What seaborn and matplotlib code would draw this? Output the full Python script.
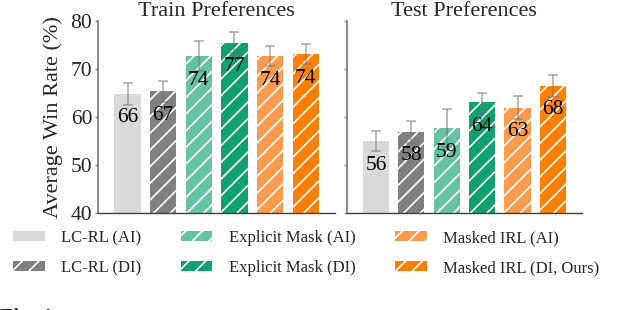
import numpy as np
import pandas as pd
import matplotlib
matplotlib.use('Agg')
import matplotlib.pyplot as plt
import matplotlib.patches as mpatches
import seaborn as sns

# data
methods = ['LC-RL (AI)', 'LC-RL (DI)', 'Explicit Mask (AI)', 'Explicit Mask (DI)',
           'Masked IRL (AI)', 'Masked IRL (DI, Ours)']
colors = ['#d9d9d9', '#808080', '#66c2a5', '#0fa06f', '#fc9a4e', '#ff7f00']
hatches = ['', '//', '//', '//', '//', '//']

train_vals = [64.8, 65.4, 72.7, 75.5, 72.7, 73.1]
train_err = [2.2, 2.2, 3.1, 2.2, 2.0, 2.1]
train_labels = ['66', '67', '74', '77', '74', '74']

test_vals = [55.0, 56.9, 57.7, 63.1, 61.9, 66.5]
test_err = [2.0, 2.3, 4.0, 2.0, 2.4, 2.3]
test_labels = ['56', '58', '59', '64', '63', '68']

yticks = [40, 50, 60, 70, 80]

sns.set_style('ticks')
plt.rcParams['font.family'] = ['Liberation Serif', 'DejaVu Serif']
plt.rcParams['hatch.color'] = 'white'
plt.rcParams['hatch.linewidth'] = 1.2

W, H = 618, 310
fig = plt.figure(figsize=(W / 100, H / 100), dpi=100)
ax1 = fig.add_axes([98 / W, 1 - 213 / H, 237 / W, 192 / H])
ax2 = fig.add_axes([346.5 / W, 1 - 213 / H, 235.5 / W, 192 / H])

panels = [(ax1, 'Train Preferences', train_vals, train_err, train_labels),
          (ax2, 'Test Preferences', test_vals, test_err, test_labels)]

for ax, title, vals, errs, labels in panels:
    df = pd.DataFrame({'method': methods, 'value': vals})
    sns.barplot(data=df, x='method', y='value', hue='method', palette=colors,
                order=methods, hue_order=methods, width=0.74, saturation=1,
                legend=False, ax=ax, zorder=1)
    for bar, h in zip(ax.patches, hatches):
        bar.set_hatch(h)
        bar.set_edgecolor('white')
        bar.set_linewidth(0)
    ax.errorbar(np.arange(len(methods)), vals, yerr=errs, fmt='none',
                ecolor='#707070', alpha=0.55, elinewidth=1.2, capsize=3.5,
                capthick=1.2, zorder=2)
    for i, (v, lab) in enumerate(zip(vals, labels)):
        ax.text(i, v - 5, lab, ha='center', va='center', fontsize=15.5,
                color='black', zorder=3)
    ax.set_xlim(-0.83, 5.82)
    ax.set_ylim(40, 80)
    ax.set_yticks(yticks)
    ax.set_xticks([])
    ax.set_xlabel('')
    ax.set_ylabel('')
    ax.set_title(title, fontsize=16, pad=2)
    for s in ['top', 'right']:
        ax.spines[s].set_visible(False)
    ax.spines['left'].set_color('#808080')
    ax.spines['left'].set_linewidth(1.3)
    ax.spines['bottom'].set_color('#404040')
    ax.spines['bottom'].set_linewidth(1.0)
    ax.tick_params(axis='y', length=2.4, width=1, color='#808080', pad=1.7,
                   labelsize=15.5)

ax2.set_yticklabels([])
ax1.set_ylabel('Average Win Rate (%)', fontsize=16)
ax1.yaxis.set_label_coords(-0.148, 0.5)

handles = [mpatches.Patch(facecolor=c, hatch=h, edgecolor='white', linewidth=0, label=m)
           for m, c, h in zip(methods, colors, hatches)]
fig.legend(handles=handles, ncol=3, loc='upper left', bbox_to_anchor=(13 / W, 1 - 230 / H),
           frameon=False, fontsize=12, handlelength=1.9, handleheight=0.55,
           handletextpad=1.0, columnspacing=2.35, labelspacing=0.85,
           borderpad=0, borderaxespad=0)

# caption of the next figure, cut off at the bottom edge
fig.text(0.0, 1 - 307.5 / H, 'Fig. 4', fontsize=15.5, fontweight='bold', va='top')

fig.savefig('out.png', dpi=100)
